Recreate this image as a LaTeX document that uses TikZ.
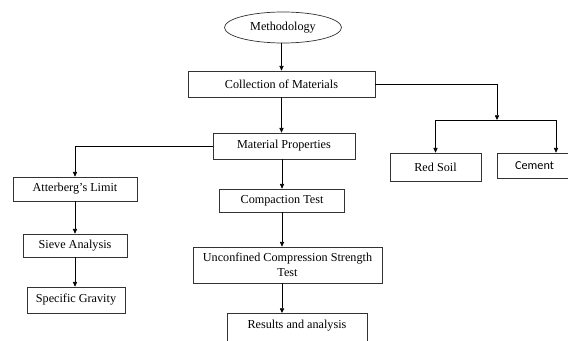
\documentclass[tikz,border=0pt]{standalone}
\usepackage{fontspec}
\setmainfont{Liberation Serif}
\newfontfamily\cemfont{Carlito}
\usetikzlibrary{shapes.geometric,arrows.meta}

\begin{document}
\begin{tikzpicture}[x=0.3mm,y=-0.3mm,
  box/.style={draw=black!80,line width=0.6pt,rectangle,inner sep=1pt,
    font=\fontsize{10.4}{12.5}\selectfont},
  arr/.style={line width=0.6pt,-{Triangle[length=4pt,width=3.6pt]}}]
\useasboundingbox (0,0) rectangle (568,341);
\clip (0,0) rectangle (568,341);

% top
\node[box,ellipse,minimum width=35.1mm,minimum height=9.3mm] (meth) at (283,27.5) {Methodology};
\node[box,minimum width=56.1mm,minimum height=7.8mm] (coll) at (281.5,84) {Collection of Materials};

% materials
\coordinate (split) at (497,120);
\node[box,minimum width=27.3mm,minimum height=8.4mm] (red) at (435.5,167) {Red Soil};
\node[box,minimum width=22.5mm,minimum height=7.5mm,font=\cemfont\fontsize{10.4}{12.5}\selectfont] (cem) at (534.5,165.5) {Cement};
\coordinate (cemtop) at ([xshift=6.45mm]cem.north);

% properties
\node[box,minimum width=42.6mm,minimum height=7.8mm] (mp) at (284,146) {Material Properties};
\node[box,minimum width=37.2mm,minimum height=7.2mm] (att) at (75,189) {Atterberg's Limit};
\node[box,minimum width=31.2mm,minimum height=6.9mm] (sieve) at (75,245.5) {Sieve Analysis};
\node[box,minimum width=29.4mm,minimum height=7.8mm] (spec) at (76,300) {Specific Gravity};
\node[box,minimum width=37.5mm,minimum height=6.9mm] (comp) at (282,200.5) {Compaction Test};
\node[box,align=center,minimum width=56.7mm,minimum height=10.8mm] (ucs) at (287.5,265) {Unconfined Compression Strength\\Test};
\node[box,anchor=north,minimum width=42mm,text height=9pt,text depth=20pt,inner ysep=3.8pt] (res) at (297,313) {Results and analysis};

% arrows
\draw[arr] (meth.south -| coll.north) -- (coll.north);
\draw[arr] (coll.east) -| (split);
\draw[arr] (split) -| (red.north);
\draw[arr] (split) -| (cemtop);
\draw[arr] (coll.south) -- (coll.south |- mp.north);
\draw[arr] (mp.west) -| (att.north);
\draw[arr] (att.south) -- (att.south |- sieve.north);
\draw[arr] (sieve.south) -- (sieve.south |- spec.north);
\draw[arr] (comp.south |- mp.south) -- (comp.north);
\draw[arr] (comp.south) -- (comp.south |- ucs.north);
\draw[arr] (comp.south |- ucs.south) -- (comp.south |- res.north);
\end{tikzpicture}
\end{document}
